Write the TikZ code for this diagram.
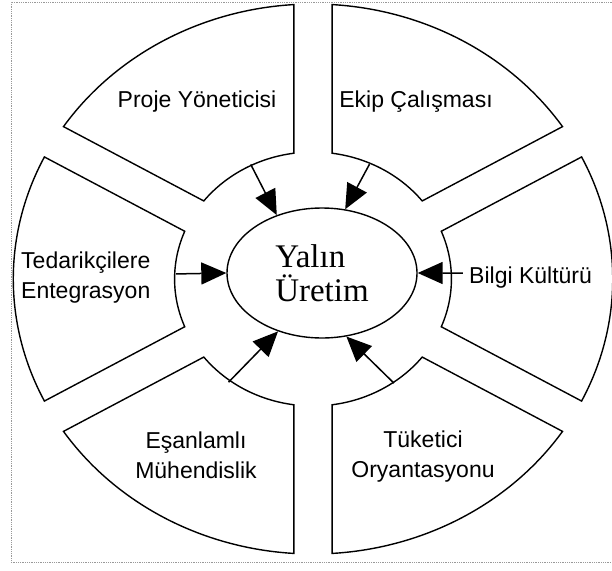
\documentclass[tikz,border=0pt]{standalone}
\usepackage{fontspec}
\setmainfont{Liberation Sans}
\newfontfamily\coreface{Liberation Serif}
\usetikzlibrary{arrows.meta,shapes.geometric}

\tikzset{
  segment/.style={draw=black, line width=1.4pt, line join=miter, fill=white},
  frameline/.style={draw=gray!80, densely dotted, line width=0.8pt},
  label/.style={inner sep=0pt, font=\fontsize{23}{30}\selectfont},
  arr/.style={draw=black, line width=1.5pt,
    -{Triangle[length=25pt,width=22pt]}},
  coreshape/.style={ellipse, draw=black, line width=1.4pt, inner sep=0pt,
    minimum width=190pt, minimum height=130pt, align=left,
    font=\coreface\fontsize{33}{34}\selectfont}
}

\begin{document}
\begin{tikzpicture}[x=1pt,y=-1pt]
\useasboundingbox (0,0) rectangle (612,570);

% dotted frame
\draw[frameline] (614,2) -- (11,2) -- (11,562) -- (614,562);

% six ring segments separated by straight gaps
\begin{scope}[shift={(313,279)}, xscale=1.09, yscale=-1]
  \def\Ro{275}
  \def\Ri{127}
  \foreach \ang in {0,60,120,180,240,300}{
    \pgfmathsetmacro\oa{\ang-26.35}
    \pgfmathsetmacro\ob{\ang+26.35}
    \pgfmathsetmacro\ia{\ang+22.08}
    \pgfmathsetmacro\ib{\ang-22.08}
    \draw[segment] (\oa:\Ro) arc[start angle=\oa, end angle=\ob, radius=\Ro]
      -- (\ia:\Ri) arc[start angle=\ia, end angle=\ib, radius=\Ri] -- cycle;
  }
  % arrow tails on the inner edges
  \coordinate (tUL) at (116.5:128);
  \coordinate (tUR) at (65.7:126);
  \coordinate (tL)  at (177.7:126);
  \coordinate (tR)  at (2.5:137.7);
  \coordinate (tLL) at (233.1:129);
  \coordinate (tLR) at (305.5:128);
\end{scope}

% central ellipse
\node[coreshape] (core) at (322,273) {Yalın\\Üretim};

% segment labels
\node[label, anchor=base] (pm) at (197,107) {Proje Yöneticisi};
\node[label, anchor=base] (tw) at (416,107) {Ekip Çalışması};
\node[label, anchor=west, align=left] (si) at (21,278) {Tedarikçilere\\Entegrasyon};
\node[label, anchor=base west] (ic) at (469,283) {Bilgi Kültürü};
\node[label, align=center] (ce) at (196,455) {Eşanlamlı\\Mühendislik};
\node[label, align=center] (co) at (423,457) {Tüketici\\Oryantasyonu};

% arrows into the core
\draw[arr] (tUL) -- (core.128);
\draw[arr] (tUR) -- (core.70);
\draw[arr] (tL)  -- (core.180);
\draw[arr] (tR)  -- (core.0);
\draw[arr] (tLL) -- (core.233);
\draw[arr] (tLR) -- (core.291);
\end{tikzpicture}
\end{document}
